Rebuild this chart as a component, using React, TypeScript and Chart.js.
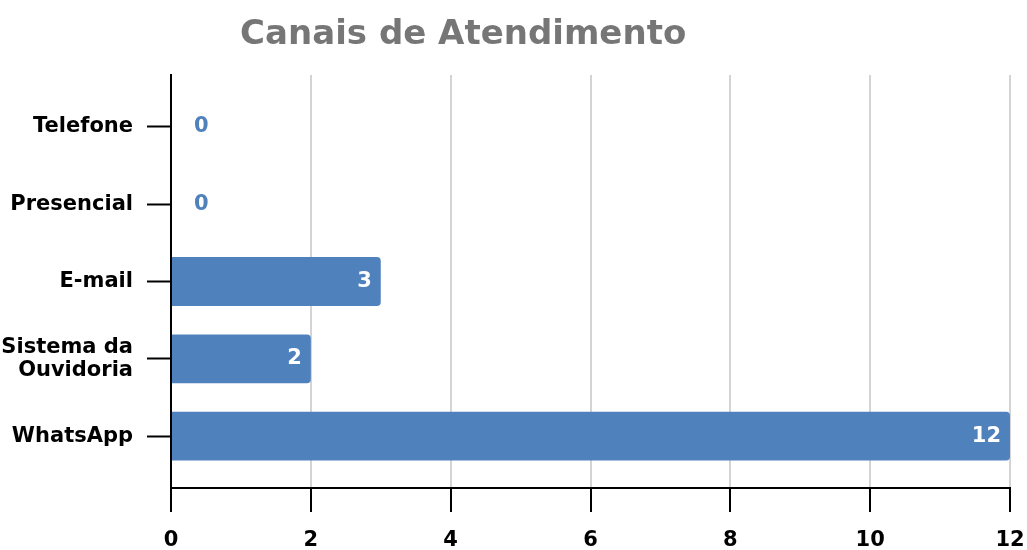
import React, { useEffect, useRef } from "react";
import { Chart, registerables } from "chart.js";

Chart.register(...registerables);

const TITLE = "Canais de Atendimento";
const CATEGORIES: (string | string[])[] = [
  "Telefone",
  "Presencial",
  "E-mail",
  ["Sistema da", "Ouvidoria"],
  "WhatsApp",
];
const VALUES = [0, 0, 3, 2, 12];
const X_MIN = 0;
const X_MAX = 12;
const X_STEP = 2;

const FONT = '"DejaVu Sans", Verdana, sans-serif';
const BAR_COLOR = "#4f81bd";

const labelPlugin = {
  id: "valueLabels",
  afterDatasetsDraw(chart: any) {
    const ctx = chart.ctx;
    const meta = chart.getDatasetMeta(0);
    ctx.save();
    ctx.textBaseline = "middle";
    ctx.font = `bold 21px ${FONT}`;
    meta.data.forEach((el: any, i: number) => {
      const v = VALUES[i];
      const p = el.getProps(["x", "y", "base"], true);
      if (v === 0) {
        ctx.fillStyle = BAR_COLOR;
        ctx.textAlign = "left";
        ctx.fillText(String(v), p.base + 23, p.y);
      } else {
        ctx.fillStyle = "#ffffff";
        ctx.textAlign = "right";
        ctx.fillText(String(v), p.x - 9, p.y);
      }
    });
    ctx.restore();
  },
};

const titlePlugin = {
  id: "customTitle",
  afterDraw(chart: any) {
    const ctx = chart.ctx;
    ctx.save();
    ctx.font = `bold 34px ${FONT}`;
    ctx.fillStyle = "#767676";
    ctx.textAlign = "center";
    ctx.textBaseline = "alphabetic";
    ctx.fillText(TITLE, chart.width * 0.451, 44);
    ctx.restore();
  },
};

export default function App() {
  const ref = useRef<HTMLCanvasElement | null>(null);

  useEffect(() => {
    document.body.style.margin = "0";
    if (!ref.current) return;
    const chart = new Chart(ref.current, {
      type: "bar",
      data: {
        datasets: [
          {
            data: VALUES.map((v, i) => ({ x: v, y: i })),
            backgroundColor: BAR_COLOR,
            borderRadius: 4,
            borderSkipped: "start",
            categoryPercentage: 1,
            barPercentage: 0.632,
          },
        ],
      },
      options: {
        animation: false,
        responsive: false,
        indexAxis: "y",
        layout: { padding: { top: 75, right: 17, left: 0, bottom: 0 } },
        plugins: {
          legend: { display: false },
          title: { display: false },
          tooltip: { enabled: false },
        },
        scales: {
          x: {
            type: "linear",
            min: X_MIN,
            max: X_MAX,
            ticks: {
              stepSize: X_STEP,
              color: "#000",
              font: { family: FONT, size: 21, weight: "bold" },
              padding: 16,
            },
            grid: {
              display: true,
              drawTicks: true,
              color: "#d4d4d4",
              lineWidth: 2,
              tickColor: "#000",
              tickWidth: 2,
              tickLength: 24,
            },
            border: { display: true, color: "#000", width: 2 },
            afterFit(scale: any) {
              scale.height = 62;
              scale.paddingRight = 0;
            },
          },
          y: {
            type: "linear",
            reverse: true,
            offset: false,
            min: -0.67,
            max: CATEGORIES.length - 1 + 0.67,
            afterBuildTicks(scale: any) {
              scale.ticks = scale.ticks.filter((t: any) => Number.isInteger(t.value));
            },
            ticks: {
              stepSize: 1,
              color: "#000",
              font: { family: FONT, size: 21, weight: "bold", lineHeight: 1.12 },
              padding: 14,
              callback: (value: any) => CATEGORIES[value as number] ?? "",
            },
            grid: {
              offset: false,
              drawOnChartArea: false,
              tickColor: "#000",
              tickWidth: 2,
              tickLength: 24,
            },
            border: { display: true, color: "#000", width: 2 },
            afterFit(scale: any) {
              scale.width = 171;
            },
          },
        },
      },
      plugins: [labelPlugin, titlePlugin],
    } as any);
    return () => chart.destroy();
  }, []);

  return (
    <div style={{ width: 1027, height: 550 }}>
      <canvas ref={ref} width={1027} height={550} style={{ display: "block" }} />
    </div>
  );
}
